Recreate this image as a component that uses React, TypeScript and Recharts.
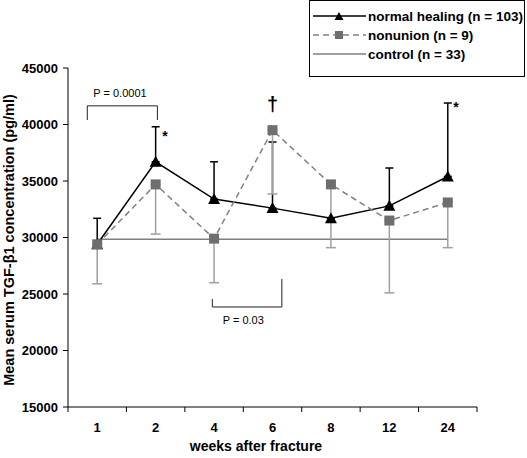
import React from "react";
import { LineChart, Line, XAxis, YAxis, ErrorBar, ReferenceLine, ReferenceDot } from "recharts";

const weeks = ["1", "2", "4", "6", "8", "12", "24"];
const normalHealing = [29400, 36700, 33400, 32600, 31700, 32800, 35400];
const normalUpErr = [2300, 3100, 3300, 5850, 0, 3350, 6500];
const nonunion = [29400, 34700, 29900, 39500, 34700, 31500, 33100];
const nonunionDownErr = [3500, 4400, 3900, 5650, 5600, 6400, 4000];
const control = [29850, 29850, 29850, 29850, 29850, 29850, 29850];
const yTicks = [15000, 20000, 25000, 30000, 35000, 40000, 45000];

const rows = weeks.map((w, i) => ({
  idx: i + 0.5,
  week: w,
  normal: normalHealing[i],
  normalErr: [0, normalUpErr[i]],
  nonunion: nonunion[i],
  nonunionErr: [nonunionDownErr[i], 0],
  control: control[i],
}));

// boundaries between categories get tick marks, centres get labels
const xTicks = [0, 0.5, 1, 1.5, 2, 2.5, 3, 3.5, 4, 4.5, 5, 5.5, 6, 6.5, 7];

const FONT = "'Liberation Sans', Arial, sans-serif";

const XTick = (props: any) => {
  const { x, y, payload } = props;
  const v = payload.value as number;
  if (Number.isInteger(v)) {
    return <line x1={x} x2={x} y1={y} y2={y + 5} stroke="#000" />;
  }
  return (
    <text x={x} y={y + 25} textAnchor="middle" fontFamily={FONT} fontWeight="bold" fontSize={13} fill="#000">
      {weeks[Math.floor(v)]}
    </text>
  );
};

const Triangle = (props: any) => {
  const { cx, cy, index } = props;
  if (cx == null || cy == null) return <g key={index} />;
  return <polygon key={index} points={`${cx - 6},${cy + 5} ${cx + 6},${cy + 5} ${cx},${cy - 6}`} fill="#000" />;
};

const Square = (props: any) => {
  const { cx, cy, index } = props;
  if (cx == null || cy == null) return <g key={index} />;
  return <rect key={index} x={cx - 5} y={cy - 5} width={10} height={10} fill="#6e6e6e" />;
};

const noteStyle = { fontFamily: FONT, fontSize: 11, fill: "#000" };
const markStyle = { fontFamily: FONT, fontWeight: "bold", fontSize: 14, fill: "#000" };

export default function App() {
  return (
    <div style={{ position: "absolute", left: 0, top: 0, width: 527, height: 458, background: "#fff" }}>
      <LineChart width={527} height={458} data={rows} margin={{ top: 68, right: 50, bottom: 21, left: 0 }}>
        <XAxis
          dataKey="idx"
          type="number"
          domain={[0, 7]}
          ticks={xTicks}
          interval={0}
          tickLine={false}
          tickSize={0}
          tickMargin={0}
          tick={<XTick />}
          height={30}
          axisLine={{ stroke: "#000" }}
        />
        <YAxis
          domain={[15000, 45000]}
          ticks={yTicks}
          interval={0}
          width={68}
          tickSize={5}
          tickMargin={5}
          axisLine={{ stroke: "#000" }}
          tickLine={{ stroke: "#000" }}
          tick={{ fill: "#000", fontFamily: FONT, fontWeight: "bold", fontSize: 13 }}
        />
        <Line dataKey="control" stroke="#7f7f7f" strokeWidth={1.5} dot={false} isAnimationActive={false} />
        <Line dataKey="normal" stroke="#000" strokeWidth={1.5} dot={Triangle} isAnimationActive={false}>
          <ErrorBar dataKey="normalErr" width={4} stroke="#000" strokeWidth={1.5} />
        </Line>
        <Line
          dataKey="nonunion"
          stroke="#808080"
          strokeWidth={1.5}
          strokeDasharray="6 4"
          dot={Square}
          isAnimationActive={false}
        >
          <ErrorBar dataKey="nonunionErr" width={5} stroke="#a0a0a0" strokeWidth={1.5} />
        </Line>
        <ReferenceLine segment={[{ x: 0.33, y: 40400 }, { x: 0.33, y: 41650 }]} stroke="#222" />
        <ReferenceLine segment={[{ x: 0.33, y: 41650 }, { x: 1.53, y: 41650 }]} stroke="#222" />
        <ReferenceLine segment={[{ x: 1.53, y: 41650 }, { x: 1.53, y: 40400 }]} stroke="#222" />
        <ReferenceLine segment={[{ x: 2.47, y: 24560 }, { x: 2.47, y: 23850 }]} stroke="#222" />
        <ReferenceLine segment={[{ x: 2.47, y: 23850 }, { x: 3.66, y: 23850 }]} stroke="#222" />
        <ReferenceLine segment={[{ x: 3.66, y: 23850 }, { x: 3.66, y: 26330 }]} stroke="#222" />
        <ReferenceDot x={0.89} y={42800} r={0} stroke="none" label={{ value: "P = 0.0001", position: "center", style: noteStyle }} />
        <ReferenceDot x={3.0} y={22700} r={0} stroke="none" label={{ value: "P = 0.03", position: "center", style: noteStyle }} />
        <ReferenceDot
          x={3.5}
          y={41800}
          r={0}
          stroke="none"
          label={{ value: "†", position: "center", style: { ...markStyle, fontSize: 20 } }}
        />
        <ReferenceDot x={1.66} y={39000} r={0} stroke="none" label={{ value: "*", position: "center", style: markStyle }} />
        <ReferenceDot x={6.64} y={41550} r={0} stroke="none" label={{ value: "*", position: "center", style: markStyle }} />
      </LineChart>

      <svg width={527} height={458} style={{ position: "absolute", left: 0, top: 0, pointerEvents: "none" }}>
        <text
          transform="translate(9,240) rotate(-90)"
          textAnchor="middle"
          dominantBaseline="central"
          fontFamily={FONT}
          fontWeight="bold"
          fontSize={14.5}
        >
          Mean serum TGF-β1 concentration (pg/ml)
        </text>
        <text x={256} y={446} textAnchor="middle" dominantBaseline="central" fontFamily={FONT} fontWeight="bold" fontSize={14}>
          weeks after fracture
        </text>
      </svg>

      <div
        style={{
          position: "absolute",
          left: 309,
          top: 0,
          width: 214,
          height: 75,
          border: "1px solid #000",
          fontFamily: FONT,
          fontWeight: "bold",
          fontSize: 13.5,
        }}
      >
        {[
          { name: "normal healing (n = 103)", kind: "normal" },
          { name: "nonunion (n = 9)", kind: "nonunion" },
          { name: "control (n = 33)", kind: "control" },
        ].map((e, i) => (
          <div key={e.kind} style={{ position: "absolute", left: 2, top: 6 + i * 19, height: 18, display: "flex", alignItems: "center" }}>
            <svg width={55} height={14}>
              {e.kind === "normal" && (
                <>
                  <line x1={1} x2={54} y1={7} y2={7} stroke="#000" strokeWidth={1.5} />
                  <polygon points="22.5,11 31.5,11 27,3" fill="#000" />
                </>
              )}
              {e.kind === "nonunion" && (
                <>
                  <line x1={1} x2={54} y1={7} y2={7} stroke="#808080" strokeWidth={1.5} strokeDasharray="6 4" />
                  <rect x={23} y={3} width={8} height={8} fill="#6e6e6e" />
                </>
              )}
              {e.kind === "control" && <line x1={1} x2={54} y1={7} y2={7} stroke="#7f7f7f" strokeWidth={1.5} />}
            </svg>
            <span style={{ marginLeft: 1 }}>{e.name}</span>
          </div>
        ))}
      </div>
    </div>
  );
}
